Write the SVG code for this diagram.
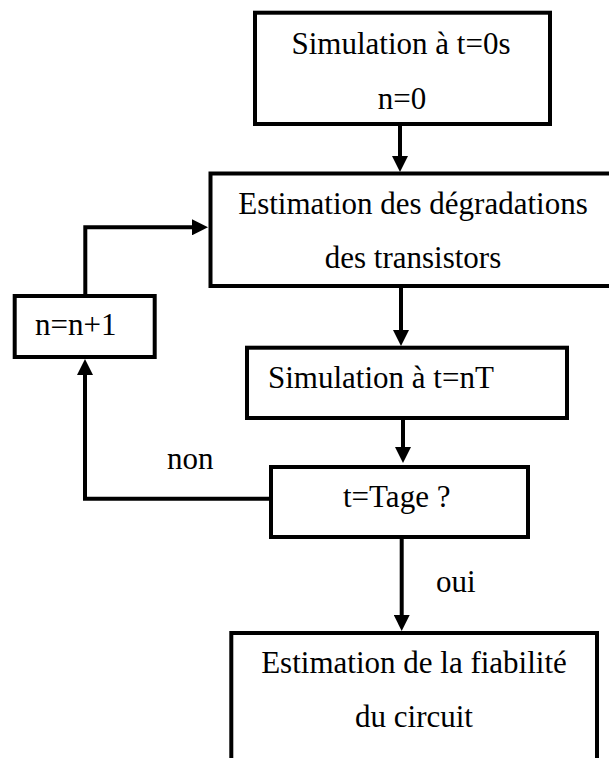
<svg xmlns="http://www.w3.org/2000/svg" width="609" height="758" viewBox="0 0 609 758">
  <style>
    .box { fill: #ffffff; stroke: #000000; stroke-width: 4; }
    .link { fill: none; stroke: #000000; stroke-width: 4; }
    .lbl { font-family: "Liberation Serif", "Times New Roman", Times, serif; font-size: 31px; fill: #000000; }
    .mid { text-anchor: middle; }
  </style>
  <defs>
    <marker id="arrow" viewBox="0 0 16 16" refX="4" refY="8" markerWidth="16" markerHeight="16" markerUnits="userSpaceOnUse" orient="auto">
      <path d="M0,0 L16,8 L0,16 Z" fill="#000000"/>
    </marker>
  </defs>
  <rect width="609" height="758" fill="#ffffff"/>

  <!-- connectors -->
  <g id="connectors">
    <path class="link" d="M400,124 L400,160" marker-end="url(#arrow)"/>
    <path class="link" d="M85.3,296 L85.3,227.3 L196,227.3" marker-end="url(#arrow)"/>
    <path class="link" d="M401,286 L401,334" marker-end="url(#arrow)"/>
    <path class="link" d="M403,418 L403,451" marker-end="url(#arrow)"/>
    <path class="link" d="M271,498.7 L85,498.7 L85,371" marker-end="url(#arrow)"/>
    <path class="link" d="M401.7,537 L401.7,619" marker-end="url(#arrow)"/>
    <text class="lbl" x="167" y="469">non</text>
    <text class="lbl" x="436" y="592">oui</text>
  </g>

  <!-- initial simulation -->
  <g id="sim0">
    <rect class="box" x="255" y="12.7" width="295" height="111.3"/>
    <text class="lbl mid" x="401" y="54">Simulation à t=0s</text>
    <text class="lbl mid" x="402" y="108.5">n=0</text>
  </g>

  <!-- degradation estimate -->
  <g id="degradation">
    <rect class="box" x="210.5" y="173.5" width="410" height="112.5"/>
    <text class="lbl mid" x="413" y="214">Estimation des dégradations</text>
    <text class="lbl mid" x="413" y="268">des transistors</text>
  </g>

  <!-- step increment -->
  <g id="increment">
    <rect class="box" x="14.7" y="296" width="140" height="61"/>
    <text class="lbl" x="35" y="335">n=n+1</text>
  </g>

  <!-- simulation at t=nT -->
  <g id="simNT">
    <rect class="box" x="247" y="347.7" width="320" height="70.3"/>
    <text class="lbl" x="268" y="388">Simulation à t=nT</text>
  </g>

  <!-- end test -->
  <g id="test">
    <rect class="box" x="271" y="467" width="257" height="70"/>
    <text class="lbl" x="343" y="507">t=Tage ?</text>
  </g>

  <!-- reliability estimate -->
  <g id="reliability">
    <rect class="box" x="231.3" y="633" width="365.7" height="200"/>
    <text class="lbl mid" x="414" y="673">Estimation de la fiabilité</text>
    <text class="lbl mid" x="414" y="727">du circuit</text>
  </g>
</svg>
